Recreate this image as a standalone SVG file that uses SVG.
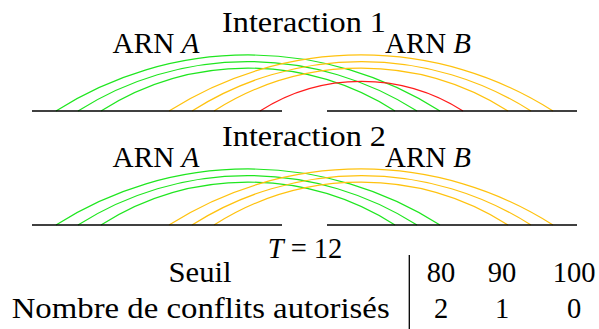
<svg xmlns="http://www.w3.org/2000/svg" width="599" height="329" viewBox="0 0 599 329" font-family="Liberation Serif, DejaVu Serif, serif">
<style>
text{font-family:'Liberation Serif','DejaVu Serif',serif;font-size:28.5px;fill:#000}
.it{font-style:italic}
.mid{text-anchor:middle}
.base{stroke:#000;stroke-width:1.3;fill:none}
.g{stroke:#1fe61f;stroke-width:1.2;fill:none}
.o{stroke:#ffc20e;stroke-width:1.2;fill:none}
.r{stroke:#ff1a1a;stroke-width:1.2;fill:none}
</style>
<rect width="599" height="329" fill="#fff"/>
<g id="interaction1">
  <text class="mid" x="304" y="31.7" textLength="164" lengthAdjust="spacingAndGlyphs">Interaction 1</text>
  <text class="mid" x="156" y="53.3" textLength="87" lengthAdjust="spacingAndGlyphs">ARN <tspan class="it">A</tspan></text>
  <text class="mid" x="428" y="53.3" textLength="86" lengthAdjust="spacingAndGlyphs">ARN <tspan class="it">B</tspan></text>
  <g id="arcs1">
    <path class="g" d="M56,111 A357,357 0 0 1 440,111"/>
    <path class="g" d="M78,111 A315.4,315.4 0 0 1 417,111"/>
    <path class="g" d="M101,111 A273.6,273.6 0 0 1 395,111"/>
    <path class="o" d="M169,111 A357,357 0 0 1 553,111"/>
    <path class="o" d="M192,111 A315.4,315.4 0 0 1 531,111"/>
    <path class="o" d="M214,111 A273.6,273.6 0 0 1 508,111"/>
    <path class="r" d="M260,111 A188.9,188.9 0 0 1 463,111"/>
  </g>
  <line class="base" x1="32" y1="111" x2="282" y2="111"/>
  <line class="base" x1="327" y1="111" x2="577" y2="111"/>
</g>
<g id="interaction2">
  <text class="mid" x="304" y="145.5" textLength="164" lengthAdjust="spacingAndGlyphs">Interaction 2</text>
  <text class="mid" x="156" y="167.3" textLength="87" lengthAdjust="spacingAndGlyphs">ARN <tspan class="it">A</tspan></text>
  <text class="mid" x="428" y="167.3" textLength="86" lengthAdjust="spacingAndGlyphs">ARN <tspan class="it">B</tspan></text>
  <g id="arcs2">
    <path class="g" d="M56,225 A357,357 0 0 1 440,225"/>
    <path class="g" d="M78,225 A315.4,315.4 0 0 1 417,225"/>
    <path class="g" d="M101,225 A273.6,273.6 0 0 1 395,225"/>
    <path class="o" d="M169,225 A357,357 0 0 1 553,225"/>
    <path class="o" d="M192,225 A315.4,315.4 0 0 1 531,225"/>
    <path class="o" d="M214,225 A273.6,273.6 0 0 1 508,225"/>
  </g>
  <line class="base" x1="32" y1="225" x2="282" y2="225"/>
  <line class="base" x1="327" y1="225" x2="577" y2="225"/>
</g>
<g id="table">
  <text class="mid" x="305" y="258.3"><tspan class="it">T</tspan> = 12</text>
  <text class="mid" x="200" y="281.7" textLength="63" lengthAdjust="spacingAndGlyphs">Seuil</text>
  <text x="11.7" y="318.3" textLength="378" lengthAdjust="spacingAndGlyphs">Nombre de conflits autorisés</text>
  <line class="base" x1="409.3" y1="255" x2="409.3" y2="329"/>
  <text class="mid" x="441" y="281.7">80</text>
  <text class="mid" x="502" y="281.7">90</text>
  <text class="mid" x="574" y="281.7">100</text>
  <text class="mid" x="441" y="318.3">2</text>
  <text class="mid" x="502" y="318.3">1</text>
  <text class="mid" x="574" y="318.3">0</text>
</g>
</svg>
